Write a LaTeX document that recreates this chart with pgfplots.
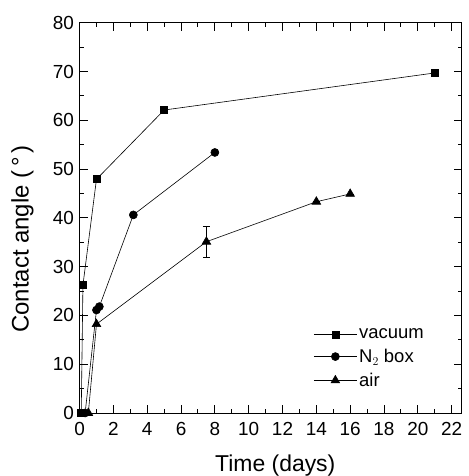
\documentclass[border=0pt]{standalone}
\usepackage{pgfplots}
\pgfplotsset{compat=1.18}
\usepackage{fontspec}
\setmainfont{Liberation Sans}
\begin{document}
\begin{tikzpicture}
\begin{axis}[
  scale only axis, width=382bp, height=390bp,
  xmin=0, xmax=22.6, ymin=0, ymax=80,
  xtick={0,2,...,22}, minor x tick num=1,
  ytick={0,10,...,80}, minor y tick num=1,
  tick align=inside, axis line style={line width=0.9bp},
  major tick length=8bp, minor tick length=4bp,
  every tick/.style={line width=0.9bp, black},
  xtick pos=both, ytick pos=both,
  xticklabel pos=left, yticklabel pos=left,
  tick label style={font=\fontsize{19}{22}\selectfont},
  xticklabel style={yshift=-5.5bp},
  yticklabel style={xshift=-2bp},
  /pgf/number format/assume math mode=true,
  xlabel={Time (days)}, ylabel={Contact angle (\,°\,)},
  xlabel style={font=\fontsize{23}{26}\selectfont, at={(axis description cs:0.512,-0.1505)}, anchor=base},
  ylabel style={font=\fontsize{24}{28}\selectfont, at={(axis description cs:-0.133,0.446)}, anchor=base},
  legend style={draw=none, fill=none, at={(0.609,0.224)}, anchor=north west,
    font=\fontsize{18.5}{22}\selectfont, row sep=5bp, inner sep=1bp},
  legend cell align=left,
  legend image post style={xscale=2.53, mark options={xscale=0.395}},
  every axis plot/.append style={line width=0.6bp, black},
]
\addplot[mark=square*, mark size=3.5bp] coordinates {
 (0.1,0) (0.2,26.2) (1,47.9) (5,62.1) (21,69.7)};
\addlegendentry{vacuum}
\addplot[mark=*, mark size=4bp] coordinates {
 (0.33,0) (1,21.1) (1.17,21.8) (3.18,40.6) (8,53.4)};
\addlegendentry{N$_2$ box}
\addplot[mark=triangle*, mark size=5bp,
  error bars/.cd, y dir=both, y explicit,
  error bar style={line width=0.6bp},
  error mark options={rotate=90, mark size=3.5bp, line width=0.6bp}] coordinates {
 (0.52,0) +- (0,0)
 (1,18.2) +- (0,0)
 (7.5,35.1) +- (0,3.1)
 (14,43.3) +- (0,0)
 (16,44.9) +- (0,0)};
\addlegendentry{air}
\end{axis}
\pgfresetboundingbox
\path ([shift={(-79.5bp,-63bp)}]current axis.south west) rectangle ([shift={(6.3bp,22.7bp)}]current axis.north east);
\end{tikzpicture}
\end{document}
